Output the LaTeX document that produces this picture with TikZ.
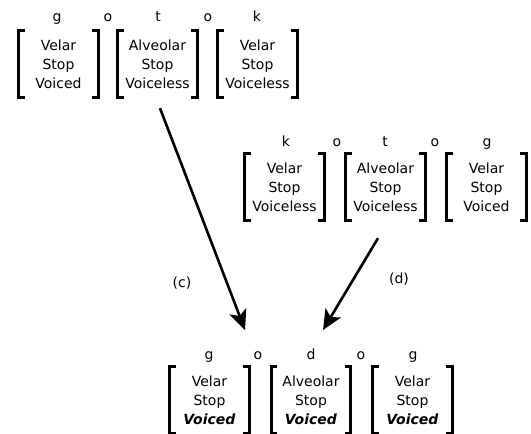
\documentclass[tikz,border=0pt]{standalone}
\usepackage{fontspec}
\setmainfont{DejaVu Sans}
\usetikzlibrary{arrows.meta}

\tikzset{
  txt/.style={font=\fontsize{14}{19}\selectfont},
  letter/.style={txt, anchor=base, inner sep=0pt},
  feat/.style={txt, minimum width=79pt, minimum height=66pt, inner sep=0pt, align=center},
  brk/.style={line width=2.8pt},
  arr/.style={line width=2.6pt, -{Stealth[length=20pt,width=18pt,inset=5pt]}},
}
\newcommand{\vcd}{\textbf{\textit{Voiced}}}

\begin{document}
\begin{tikzpicture}[x=1pt,y=-1pt]
    \useasboundingbox (0,0) rectangle (531,434);
    % first word: g o t o k
    \node[letter] (fg) at (57,21) {g};
    \node[letter] (fo1) at (108,21) {o};
    \node[letter] (ft) at (158,21) {t};
    \node[letter] (fo2) at (208,21) {o};
    \node[letter] (fk) at (257,21) {k};
    \node[feat] (f1) at (58.5,64) {Velar\\Stop\\Voiced};
    \node[feat] (f2) at (157.5,64) {Alveolar\\Stop\\Voiceless};
    \node[feat] (f3) at (257.5,64) {Velar\\Stop\\Voiceless};
    % second word: k o t o g
    \node[letter] (mk) at (286,146) {k};
    \node[letter] (mo1) at (337,146) {o};
    \node[letter] (mt) at (385,146) {t};
    \node[letter] (mo2) at (435,146) {o};
    \node[letter] (mg) at (487,146) {g};
    \node[feat] (m1) at (284.5,187) {Velar\\Stop\\Voiceless};
    \node[feat] (m2) at (385.5,187) {Alveolar\\Stop\\Voiceless};
    \node[feat] (m3) at (486.5,187) {Velar\\Stop\\Voiced};
    % result: g o d o g
    \node[letter] (bg1) at (209,359) {g};
    \node[letter] (bo1) at (258,359) {o};
    \node[letter] (bd) at (311,359) {d};
    \node[letter] (bo2) at (361,359) {o};
    \node[letter] (bg2) at (413,359) {g};
    \node[feat] (b1) at (209.5,400) {Velar\\Stop\\\vcd};
    \node[feat] (b2) at (311,400) {Alveolar\\Stop\\\vcd};
    \node[feat] (b3) at (412.5,400) {Velar\\Stop\\\vcd};
    % brackets
    \foreach \n in {f1,f2,f3,m1,m2,m3,b1,b2,b3} {
        \draw[brk] ([xshift=6pt]\n.north west) -- (\n.north west) -- (\n.south west) -- ([xshift=6pt]\n.south west);
        \draw[brk] ([xshift=-6pt]\n.north east) -- (\n.north east) -- (\n.south east) -- ([xshift=-6pt]\n.south east);
    }
    % arrows
    \coordinate (cEnd) at (245,330);
    \coordinate (dEnd) at (323,330);
    \draw[arr] ([xshift=2.5pt,yshift=-11pt]f2.south) -- (cEnd);
    \draw[arr] ([xshift=-7.5pt,yshift=-18pt]m2.south) -- (dEnd);
    \node[txt] (lc) at (182,283) {(c)};
    \node[txt] (ld) at (399,279) {(d)};
\end{tikzpicture}
\end{document}
